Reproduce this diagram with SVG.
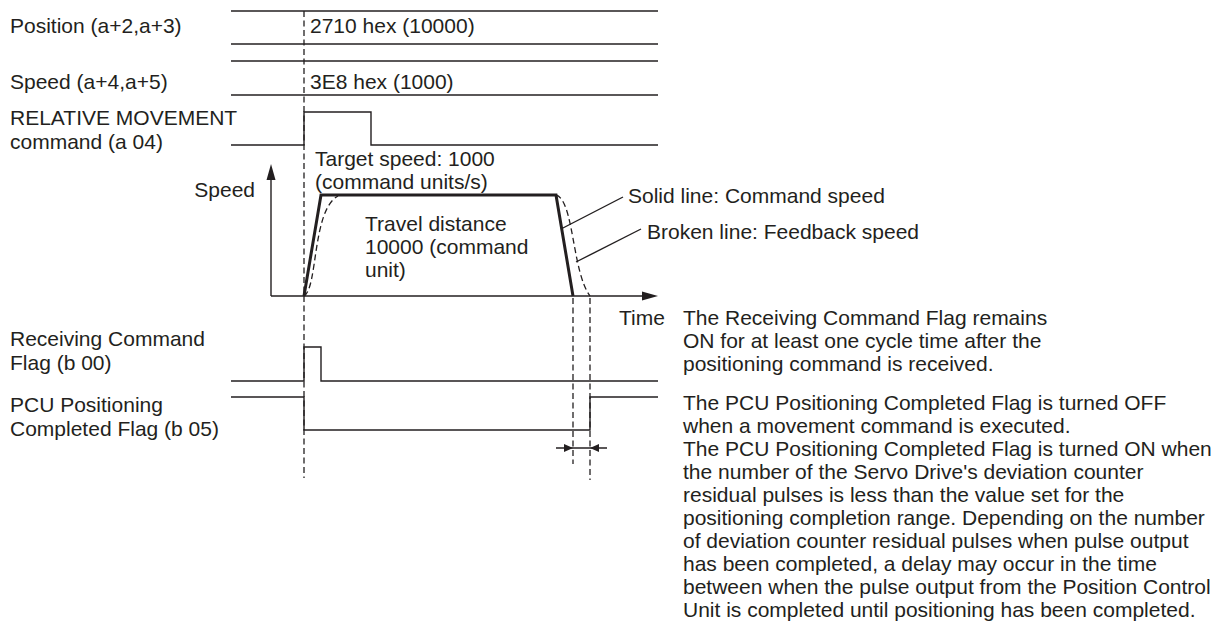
<svg xmlns="http://www.w3.org/2000/svg" width="1226" height="630" viewBox="0 0 1226 630">
<style>
text{font-family:"Liberation Sans",Arial,sans-serif;font-size:21px;fill:#231f20}
.ln{stroke:#231f20;stroke-width:1.4;fill:none}
.th{stroke:#231f20;stroke-width:3;fill:none;stroke-linejoin:miter}
.dl{stroke:#231f20;stroke-width:1.3;fill:none;stroke-dasharray:6 3.5}
.ah{fill:#231f20}
</style>
<rect width="1226" height="630" fill="#fff"/>
<g id="connectors">
<line class="ln" x1="231" y1="11" x2="658" y2="11"/>
<line class="ln" x1="231" y1="44" x2="658" y2="44"/>
<line class="ln" x1="231" y1="61" x2="658" y2="61"/>
<line class="ln" x1="231" y1="95" x2="658" y2="95"/>
<polyline class="ln" points="231,145 304,145 304,112 371,112 371,145 658,145"/>
<line class="dl" x1="304" y1="11" x2="304" y2="478"/>
<line class="dl" x1="573" y1="298" x2="573" y2="464"/>
<line class="dl" x1="590" y1="298" x2="590" y2="480"/>
<line class="ln" x1="271" y1="296" x2="271" y2="178"/>
<polygon class="ah" points="271,164 266.5,180 275.5,180"/>
<line class="ln" x1="271" y1="296" x2="644" y2="296"/>
<polygon class="ah" points="658,296 642,291.5 642,300.5"/>
<polyline class="th" points="304,296 321,195 556,195 573,296"/>
<path class="dl" d="M304,296 C318,288 312,210 338,196"/>
<path class="dl" d="M556,195 C574,200 572,272 590,296"/>
<line class="ln" x1="561" y1="229" x2="623" y2="197"/>
<line class="ln" x1="576" y1="262" x2="641" y2="229"/>
<polyline class="ln" points="231,381 304,381 304,347 321,347 321,381 658,381"/>
<polyline class="ln" points="231,397 304,397 304,430 590,430 590,397 658,397"/>
<line class="ln" x1="556" y1="448" x2="607" y2="448"/>
<polygon class="ah" points="573,448 564,444 564,452"/>
<polygon class="ah" points="590,448 599,444 599,452"/>
</g>
<g id="label-position"><text x="10" y="33">Position (a+2,a+3)</text></g>
<g id="value-position"><text x="310" y="33">2710 hex (10000)</text></g>
<g id="label-speed"><text x="10" y="89">Speed (a+4,a+5)</text></g>
<g id="value-speed"><text x="310" y="89">3E8 hex (1000)</text></g>
<g id="label-relative"><text x="10" y="125">RELATIVE MOVEMENT</text><text x="10" y="149">command (a 04)</text></g>
<g id="label-target"><text x="315" y="166">Target speed: 1000</text><text x="315" y="189">(command units/s)</text></g>
<g id="label-speed-axis"><text x="255" y="197" text-anchor="end">Speed</text></g>
<g id="label-travel"><text x="365" y="231">Travel distance</text><text x="365" y="254">10000 (command</text><text x="365" y="277">unit)</text></g>
<g id="label-solid"><text x="628" y="203">Solid line: Command speed</text></g>
<g id="label-broken"><text x="647" y="239">Broken line: Feedback speed</text></g>
<g id="label-time"><text x="619" y="325">Time</text></g>
<g id="label-receiving"><text x="10" y="346">Receiving Command</text><text x="10" y="370">Flag (b 00)</text></g>
<g id="label-pcu"><text x="10" y="412">PCU Positioning</text><text x="10" y="436">Completed Flag (b 05)</text></g>
<g id="note-receiving"><text x="683" y="325">The Receiving Command Flag remains</text><text x="683" y="348">ON for at least one cycle time after the</text><text x="683" y="371">positioning command is received.</text></g>
<g id="note-pcu">
<text x="683" y="410">The PCU Positioning Completed Flag is turned OFF</text>
<text x="683" y="433">when a movement command is executed.</text>
<text x="683" y="456">The PCU Positioning Completed Flag is turned ON when</text>
<text x="683" y="479">the number of the Servo Drive's deviation counter</text>
<text x="683" y="502">residual pulses is less than the value set for the</text>
<text x="683" y="525">positioning completion range. Depending on the number</text>
<text x="683" y="548">of deviation counter residual pulses when pulse output</text>
<text x="683" y="571">has been completed, a delay may occur in the time</text>
<text x="683" y="594">between when the pulse output from the Position Control</text>
<text x="683" y="617">Unit is completed until positioning has been completed.</text>
</g>
</svg>
